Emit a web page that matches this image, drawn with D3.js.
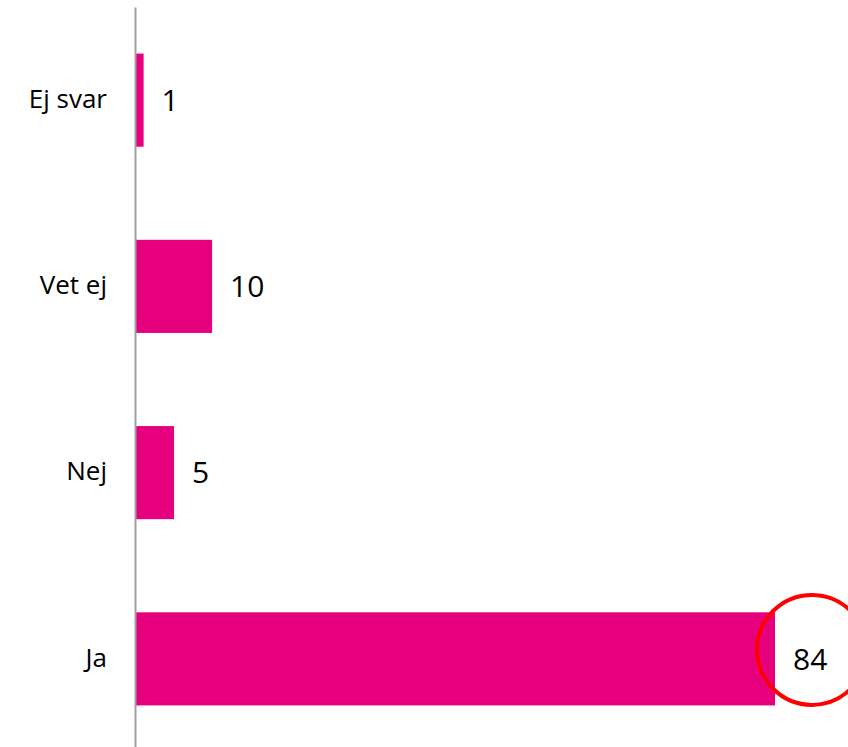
<!DOCTYPE html>
<head>
  <meta charset="utf-8">
  <script src="https://d3js.org/d3.v7.min.js"></script>
  <style>
    body { margin: 0; background: #fff; }
    text { font-family: "Open Sans", sans-serif; fill: #000; }
  </style>
</head>

<body>
  <script>

    var categories = ["Ej svar", "Vet ej", "Nej", "Ja"];
    var values = [1, 10, 5, 84];
    var highlighted = "Ja";

    var width = 848;
    var height = 747;

    var svg = d3.select("body").append("svg")
      .attr("width", width)
      .attr("height", height);

    var x = d3.scaleLinear()
        .domain([0, 84])
        .range([136, 775]);

    var y = d3.scaleBand()
        .domain(categories)
        .range([7, 752])
        .paddingInner(0.5)
        .paddingOuter(0.25);

    var data = categories.map(function(c, i) { return {name: c, value: values[i]}; });

    svg.selectAll(".bar").data(data).enter()
      .append("rect")
        .attr("class", "bar")
        .attr("x", x(0))
        .attr("y", function(d) { return y(d.name); })
        .attr("width", function(d) { return x(d.value) - x(0); })
        .attr("height", y.bandwidth())
        .style("fill", "#e6007e");

    // category axis
    var axis = svg.append("g")
        .attr("transform", "translate(135,0)")
        .call(d3.axisLeft(y).tickSize(0).tickPadding(28));

    axis.select(".domain")
        .attr("stroke", "#a0a0a0")
        .attr("stroke-width", 2);

    axis.selectAll("text")
        .style("font-size", "26px")
        .style("font-family", "'Open Sans', sans-serif")
        .attr("dy", "0.3em");

    // value labels
    svg.selectAll(".value").data(data).enter()
      .append("text")
        .attr("class", "value")
        .attr("x", function(d) { return x(d.value) + 18; })
        .attr("y", function(d) { return y(d.name) + y.bandwidth() / 2; })
        .attr("dy", "0.36em")
        .style("font-size", "30px")
        .text(function(d) { return d.value; });

    // red ring around highlighted value
    var hl = data.filter(function(d) { return d.name === highlighted; })[0];
    svg.append("circle")
        .attr("cx", x(hl.value) + 37)
        .attr("cy", y(hl.name) + y.bandwidth() / 2 - 9)
        .attr("r", 55)
        .style("fill", "none")
        .style("stroke", "#ff0000")
        .style("stroke-width", 4);

  </script>
</body>
